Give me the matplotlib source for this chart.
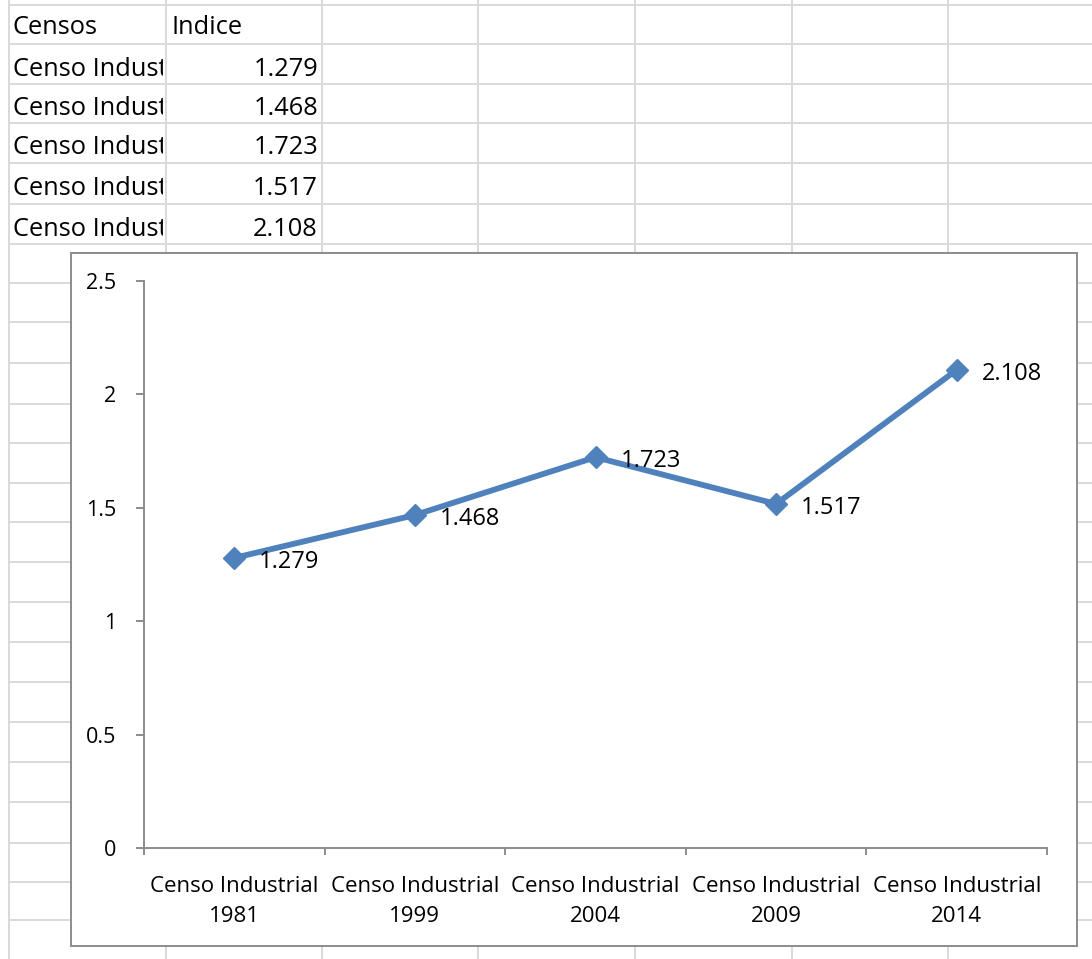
import numpy as np
import matplotlib
matplotlib.use("Agg")
import matplotlib.pyplot as plt
from matplotlib.patches import Rectangle
from matplotlib.transforms import Bbox, TransformedBbox

plt.rcParams["font.family"] = ["Open Sans", "DejaVu Sans"]

# Data
censos = ["Censo Industrial 1981", "Censo Industrial 1999", "Censo Industrial 2004",
          "Censo Industrial 2009", "Censo Industrial 2014"]
tick_labels = ["Censo Industrial\n1981", "Censo Industrial\n1999", "Censo Industrial\n2004",
               "Censo Industrial\n2009", "Censo Industrial\n2014"]
indice = [1.279, 1.468, 1.723, 1.517, 2.108]
value_labels = ["1.279", "1.468", "1.723", "1.517", "2.108"]

W, H = 1092, 959
fig = plt.figure(figsize=(W / 100, H / 100), dpi=100)
fig.patch.set_facecolor("white")

# Spreadsheet background (pixel coordinates)
bg = fig.add_axes([0, 0, 1, 1])
bg.set_xlim(0, W)
bg.set_ylim(H, 0)
bg.axis("off")

grid_col = "#D9D9D9"
col_x = [9, 166, 322, 478, 635, 792, 948]
row_y = [5, 44, 84, 123, 163, 204, 244, 283, 322, 363, 404, 443, 483, 522,
         562, 602, 642, 682, 722, 762, 802, 843, 882, 920]
for x in col_x:
    bg.plot([x, x], [0, H], color=grid_col, lw=1.4, zorder=1)
for y in row_y:
    bg.plot([9, W], [y, y], color=grid_col, lw=1.4, zorder=1)

def cell_text(x, y, s, ha, clip_x1):
    t = bg.text(x, y, s, ha=ha, va="center", fontsize=18.3, color="black", zorder=2)
    box = Bbox([[0, 0], [clip_x1 / W, 1]])
    t.set_clip_box(TransformedBbox(box, fig.transFigure))
    t.set_clip_on(True)
    return t

cell_text(13, 28, "Censos", "left", 165)
cell_text(171, 28, "Indice", "left", 321)
for i, (name, lab) in enumerate(zip(censos, value_labels)):
    yc = (row_y[i + 1] + row_y[i + 2]) / 2 + 5
    # the cell is too narrow, Excel cuts the name at the column edge
    cell_text(13, yc, name[:12], "left", 163)
    cell_text(318, yc, lab, "right", 321)

# Chart area
bg.add_patch(Rectangle((71, 253), 1006, 693, facecolor="white",
                       edgecolor="#8C8C8C", lw=1.4, zorder=5))

ax = fig.add_axes([144 / W, 1 - 848 / H, 903 / W, 567 / H], zorder=10)
ax.patch.set_alpha(0)
x = np.arange(len(indice))
ax.plot(x, indice, color="#4F81BD", lw=4.2, marker="D", ms=11,
        markeredgecolor="#4F81BD", zorder=3)
for xi, v, lab in zip(x, indice, value_labels):
    ax.annotate(lab, (xi, v), xytext=(18, -3), textcoords="offset points",
                ha="left", va="center", fontsize=17, color="black", zorder=4)

ax.set_xlim(-0.5, len(indice) - 0.5)
ax.set_ylim(0, 2.5)
ax.set_yticks([0, 0.5, 1, 1.5, 2, 2.5])
ax.set_yticklabels(["0", "0.5", "1", "1.5", "2", "2.5"])
ax.set_xticks(x)
ax.set_xticklabels(tick_labels, linespacing=1.55)
ax.set_xticks(np.arange(len(indice) + 1) - 0.5, minor=True)
ax.tick_params(axis="x", which="major", length=0, pad=20, labelsize=16)
ax.tick_params(axis="x", which="minor", length=5, width=1.4, color="#8C8C8C", direction="out")
ax.tick_params(axis="y", length=6, width=1.4, color="#8C8C8C", pad=14, labelsize=15.5)
for s in ["top", "right"]:
    ax.spines[s].set_visible(False)
for s in ["left", "bottom"]:
    ax.spines[s].set_color("#8C8C8C")
    ax.spines[s].set_linewidth(1.4)

fig.savefig("out.png", dpi=100)
